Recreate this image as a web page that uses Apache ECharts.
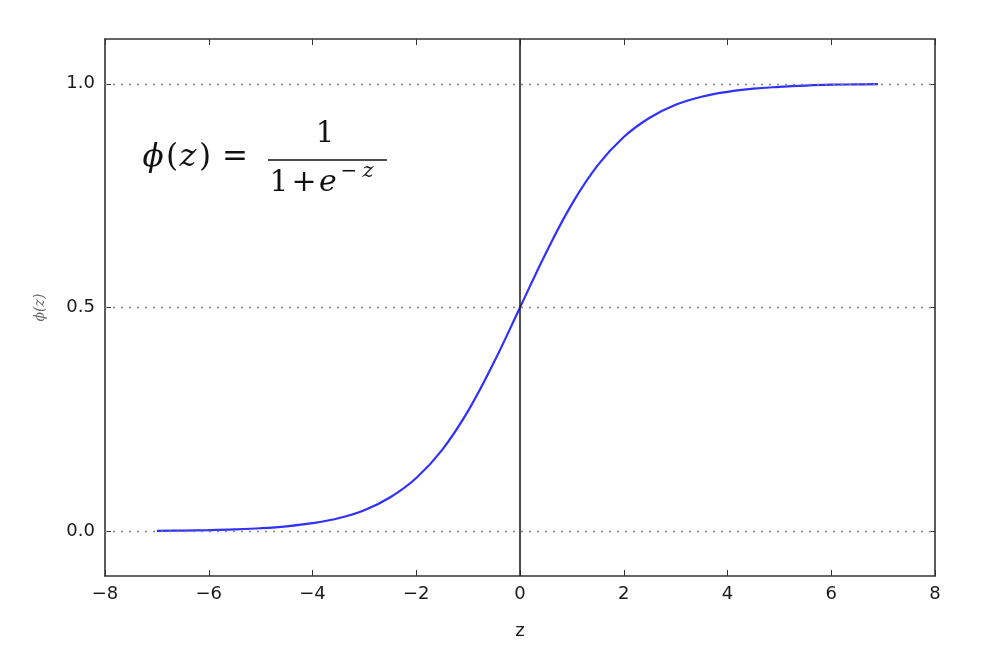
<!DOCTYPE html>
<html>
<head>
<meta charset="utf-8">
<script src="https://cdn.jsdelivr.net/npm/echarts@6/dist/echarts.min.js"></script>
<style>html,body{margin:0;padding:0;background:#fff}#c{width:1006px;height:664px}</style>
</head>
<body>
<div id="c"></div>
<script>
// z values and phi(z) values
const zValues = [-7, -6.5, -6, -5.5, -5, -4.5, -4, -3.5, -3, -2.5, -2, -1.5, -1, -0.5, 0, 0.5, 1, 1.5, 2, 2.5, 3, 3.5, 4, 4.5, 5, 5.5, 6, 6.5, 6.9];
const phiValues = [0.0009, 0.0015, 0.0025, 0.0041, 0.0067, 0.011, 0.018, 0.029, 0.047, 0.076, 0.119, 0.182, 0.269, 0.378, 0.5, 0.622, 0.731, 0.818, 0.881, 0.924, 0.953, 0.971, 0.982, 0.989, 0.993, 0.996, 0.998, 0.9985, 0.999];
const xTicks = [-8, -6, -4, -2, 0, 2, 4, 6, 8];
const yTicks = [0.0, 0.5, 1.0];

const chart = echarts.init(document.getElementById('c'));
const axisColor = '#333';
const labelStyle = {color: '#1a1a1a', fontSize: 18, fontFamily: 'DejaVu Sans'};
const frameLine = {show: true, onZero: false, lineStyle: {color: axisColor, width: 1.6}};
const tick = {show: true, inside: true, length: 6, lineStyle: {color: axisColor, width: 1}};

function glyph(x, y, text, size, italic) {
  return {type: 'text', x: x, y: y, z: 10,
    style: {text: text, fontSize: size, fontFamily: 'DejaVu Serif', fontStyle: italic ? 'italic' : 'normal',
            fill: '#111', align: 'center', verticalAlign: 'middle'}};
}

chart.setOption({
  animation: false,
  grid: {left: 105, right: 71, top: 39, bottom: 88},
  xAxis: [
    {type: 'value', min: -8, max: 8, interval: 2, position: 'bottom',
     axisLine: frameLine, axisTick: tick, splitLine: {show: false},
     axisLabel: Object.assign({margin: 9, formatter: v => String(v).replace('-', '\u2212')}, labelStyle),
     name: 'z', nameLocation: 'middle', nameGap: 46,
     nameTextStyle: {color: '#1a1a1a', fontSize: 18, fontFamily: 'DejaVu Sans'}},
    {type: 'value', min: -8, max: 8, interval: 2, position: 'top',
     axisLine: frameLine, axisTick: tick, splitLine: {show: false}, axisLabel: {show: false}}
  ],
  yAxis: [
    {type: 'value', min: -0.1, max: 1.1, position: 'left',
     axisLine: frameLine,
     axisTick: Object.assign({customValues: yTicks}, tick),
     splitLine: {show: false},
     axisLabel: Object.assign({customValues: yTicks, margin: 10, formatter: v => v.toFixed(1)}, labelStyle),
     name: '\u03D5(z)', nameLocation: 'middle', nameGap: 58, nameRotate: 90,
     nameTextStyle: {color: '#666', fontSize: 14, fontFamily: 'DejaVu Serif', fontStyle: 'italic'}},
    {type: 'value', min: -0.1, max: 1.1, position: 'right',
     axisLine: frameLine,
     axisTick: Object.assign({customValues: yTicks}, tick),
     splitLine: {show: false}, axisLabel: {show: false}}
  ],
  series: [{
    type: 'line',
    data: zValues.map((z, i) => [z, phiValues[i]]),
    smooth: 0.4,
    showSymbol: false,
    lineStyle: {color: '#3030ff', width: 2.2},
    z: 3,
    markLine: {
      silent: true, symbol: 'none', label: {show: false}, animation: false,
      data: [
        ...yTicks.map(v => ({yAxis: v, lineStyle: {type: [2, 6], color: '#888', width: 1.3}})),
        {xAxis: 0, lineStyle: {type: 'solid', color: '#222', width: 1.6}}
      ]
    }
  }],
  graphic: [
    glyph(153, 158, '\u03D5', 31, true),
    glyph(172, 158, '(', 31, false),
    glyph(188, 158, 'z', 32, true),
    glyph(205, 158, ')', 31, false),
    glyph(235, 158, '=', 31, false),
    glyph(325, 134, '1', 29, false),
    {type: 'line', z: 10, shape: {x1: 268, y1: 160, x2: 387, y2: 160}, style: {stroke: '#111', lineWidth: 1.6}},
    glyph(279, 183, '1', 29, false),
    glyph(304, 183, '+', 30, false),
    glyph(328, 183, 'e', 30, true),
    glyph(349, 172, '\u2212', 20, false),
    glyph(368, 172, 'z', 21, true)
  ]
});
</script>
</body>
</html>
